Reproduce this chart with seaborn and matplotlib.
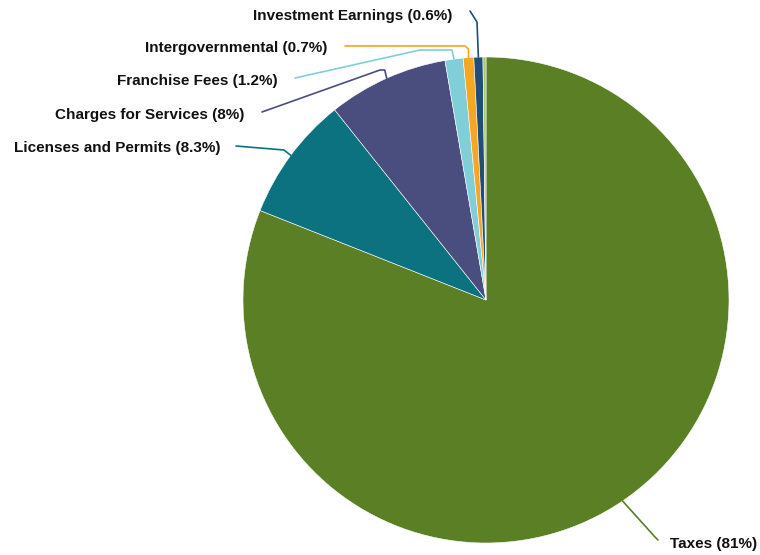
import numpy as np
import matplotlib
matplotlib.use("Agg")
import matplotlib.pyplot as plt
import seaborn as sns

# revenue sources, clockwise from 12 o'clock
categories = ["Taxes", "Licenses and Permits", "Charges for Services", "Franchise Fees",
              "Intergovernmental", "Investment Earnings", "Other"]
shares = [81, 8.3, 8, 1.2, 0.7, 0.6, 0.2]
pct_labels = ["81%", "8.3%", "8%", "1.2%", "0.7%", "0.6%", None]
colors = ["#5a7f24", "#0d7280", "#4a4e7e", "#80cfd8", "#f5a623", "#1f4e79", "#a8c86e"]

sns.set_theme(style="white")
plt.rcParams["font.family"] = ["Liberation Sans", "DejaVu Sans"]

W, H = 760, 555
fig = plt.figure(figsize=(W / 100, H / 100), dpi=100)
ax = fig.add_axes([0, 0, 1, 1])

cx, cy, r = 486, H - 300, 243
wedges, _ = ax.pie(shares, colors=colors, startangle=90, counterclock=False,
                   center=(cx, cy), radius=r,
                   wedgeprops=dict(edgecolor="white", linewidth=0.4))
ax.set_xlim(0, W)
ax.set_ylim(0, H)
ax.set_aspect("equal")
ax.axis("off")

# label layout in pixel coords (x, y from top) and alignment
label_pos = {
    "Taxes": (670, 544, "left"),
    "Licenses and Permits": (220, 148, "right"),
    "Charges for Services": (244, 115, "right"),
    "Franchise Fees": (278, 81, "right"),
    "Intergovernmental": (327, 48, "right"),
    "Investment Earnings": (452, 16, "right"),
}
# leader line bend and start points
leader_mid = {
    "Taxes": (655, 537),
    "Licenses and Permits": (284, 150),
    "Charges for Services": (380, 70),
    "Franchise Fees": (452, 50),
    "Intergovernmental": (465, 46),
    "Investment Earnings": (477, 22),
}
leader_start = {
    "Taxes": None,
    "Licenses and Permits": (236, 146),
    "Charges for Services": (262, 112),
    "Franchise Fees": (295, 78),
    "Intergovernmental": (345, 46),
    "Investment Earnings": (470, 11),
}

for w, name, pct, col in zip(wedges, categories, pct_labels, colors):
    if pct is None:
        continue
    mid = np.deg2rad((w.theta1 + w.theta2) / 2)
    anchor = (cx + r * np.cos(mid), cy + r * np.sin(mid))
    tx, ty, ha = label_pos[name]
    mx, my = leader_mid[name]
    if name == "Taxes":
        pts = [anchor, (mx, H - my), (tx - 12, H - 540)]
    else:
        sx, sy = leader_start[name]
        if name == "Franchise Fees":
            pts = [(sx, H - sy), (420, H - my), (mx, H - my), anchor]
        elif name == "Charges for Services":
            pts = [(sx, H - sy), (mx, H - my), (anchor[0] - 2, H - my), anchor]
        elif name == "Intergovernmental":
            pts = [(sx, H - sy), (mx, H - my), (anchor[0], H - my - 3), anchor]
        else:
            pts = [(sx, H - sy), (mx, H - my), anchor]
    xs, ys = zip(*pts)
    ax.plot(xs, ys, color=col, lw=1.2, solid_capstyle="round")
    ax.text(tx, H - ty, f"{name} ({pct})", ha=ha, va="center",
            fontsize=11, fontweight="bold", color="#111111")

fig.savefig("out.png", dpi=100)
